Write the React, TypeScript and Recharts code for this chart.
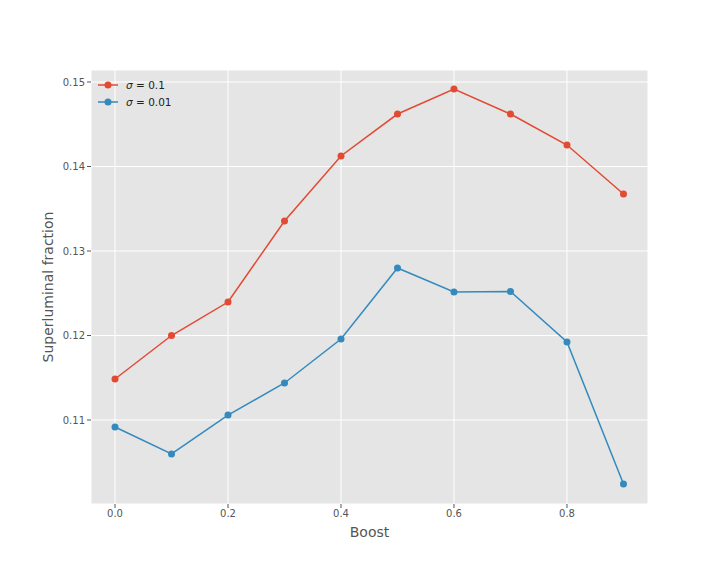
import { LineChart, Line, XAxis, YAxis, CartesianGrid, Label } from 'recharts';

const boost = [0.0, 0.1, 0.2, 0.3, 0.4, 0.5, 0.6, 0.7, 0.8, 0.9];
const sigma01 = [0.11485, 0.12, 0.12396, 0.13355, 0.14124, 0.14621, 0.14917, 0.14621, 0.14254, 0.13675];
const sigma001 = [0.10917, 0.10598, 0.11059, 0.11438, 0.11959, 0.12799, 0.12515, 0.12521, 0.11923, 0.10243];
const xTicks = [0, 0.2, 0.4, 0.6, 0.8];
const yTicks = [0.11, 0.12, 0.13, 0.14, 0.15];

const series = [
  { key: 's1', label: '0.1', color: '#E24A33' },
  { key: 's2', label: '0.01', color: '#348ABD' },
];

const data = boost.map((b, i) => ({ boost: b, s1: sigma01[i], s2: sigma001[i] }));

const font = 'DejaVu Sans, sans-serif';

// legend drawn as an overlay so it doesn't shrink the plot area
const LegendBox = () => (
  <svg width={90} height={36} style={{ position: 'absolute', left: 96, top: 77 }}>
    {series.map((s, i) => (
      <g key={s.key} transform={`translate(0, ${8 + i * 17})`}>
        <line x1={2} x2={22} y1={0} y2={0} stroke={s.color} strokeWidth={1.5} />
        <circle cx={12} cy={0} r={3.5} fill={s.color} />
        <text x={30} y={4} fontSize={10.5} fontFamily={font} fill="#222">
          <tspan fontStyle="italic">σ</tspan>
          <tspan> = {s.label}</tspan>
        </text>
      </g>
    ))}
  </svg>
);

const App = () => {
  return (
    <div style={{ position: 'absolute', left: 0, top: 0, width: 720, height: 576, background: '#fff' }}>
      <LineChart
        width={720}
        height={576}
        data={data}
        margin={{ top: 70, right: 72, bottom: 32, left: 41 }}
        style={{ fontFamily: font }}
      >
        <CartesianGrid fill="#E5E5E5" stroke="#ffffff" strokeWidth={1} />
        <XAxis
          dataKey="boost"
          type="number"
          domain={[-0.0425, 0.9434]}
          ticks={xTicks}
          tickFormatter={(v: number) => v.toFixed(1)}
          axisLine={false}
          tickLine={{ stroke: '#555' }}
          tickSize={4}
          height={40}
          tick={{ fill: '#555', fontSize: 10 }}
        >
          <Label value="Boost" position="insideBottom" offset={0} fill="#555" fontSize={14} dy={-7} />
        </XAxis>
        <YAxis
          type="number"
          domain={[0.10006, 0.15142]}
          ticks={yTicks}
          tickFormatter={(v: number) => v.toFixed(2)}
          axisLine={false}
          tickLine={{ stroke: '#555' }}
          tickSize={4}
          width={50}
          tick={{ fill: '#555', fontSize: 10 }}
          allowDataOverflow
        >
          <Label value="Superluminal fraction" angle={-90} position="insideLeft" offset={0} fill="#555" fontSize={14} dx={7} style={{ textAnchor: 'middle' }} />
        </YAxis>
        {series.map((s) => (
          <Line
            key={s.key}
            dataKey={s.key}
            stroke={s.color}
            strokeWidth={1.5}
            dot={{ r: 3.5, fill: s.color, stroke: 'none' }}
            isAnimationActive={false}
          />
        ))}
      </LineChart>
      <LegendBox />
    </div>
  );
};

export default App;
